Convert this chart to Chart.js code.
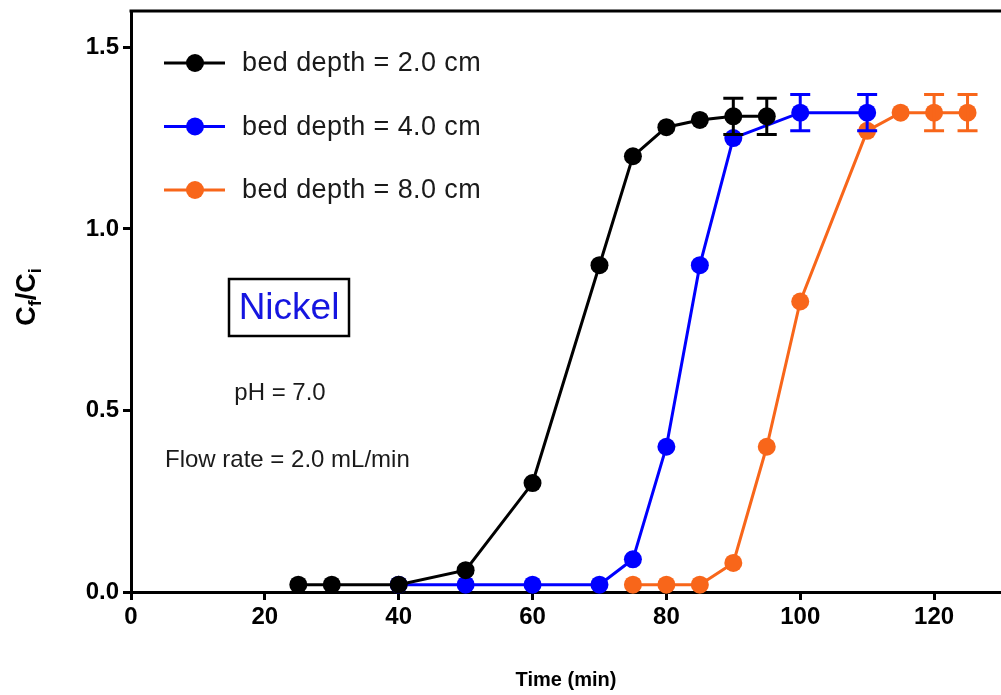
<!DOCTYPE html>
<html>
<head>
<meta charset="utf-8">
<script src="https://cdn.jsdelivr.net/npm/chart.js@4.4.1/dist/chart.umd.min.js"></script>
<style>
  html, body { margin: 0; padding: 0; background: #fff; }
  #wrap { width: 1001px; height: 695px; }
</style>
</head>
<body>
<div id="wrap"><canvas id="chart" width="1001" height="695"></canvas></div>
<script>
// breakthrough readings, C/Ci against time (min), one set per bed depth
const time2cm = [25, 30, 40, 50, 60, 70, 75, 80, 85, 90, 95];
const ratio2cm = [0.02, 0.02, 0.02, 0.06, 0.30, 0.90, 1.20, 1.28, 1.30, 1.31, 1.31];
const err2cm = [0, 0, 0, 0, 0, 0, 0, 0, 0, 0.05, 0.05];

const time4cm = [40, 50, 60, 70, 75, 80, 85, 90, 100, 110];
const ratio4cm = [0.02, 0.02, 0.02, 0.02, 0.09, 0.40, 0.90, 1.25, 1.32, 1.32];
const err4cm = [0, 0, 0, 0, 0, 0, 0, 0, 0.05, 0.05];

const time8cm = [75, 80, 85, 90, 95, 100, 110, 115, 120, 125];
const ratio8cm = [0.02, 0.02, 0.02, 0.08, 0.40, 0.80, 1.27, 1.32, 1.32, 1.32];
const err8cm = [0, 0, 0, 0, 0, 0, 0, 0, 0.05, 0.05];

const seriesLabels = ["bed depth = 2.0 cm", "bed depth = 4.0 cm", "bed depth = 8.0 cm"];

const xTicks = [0, 20, 40, 60, 80, 100, 120];
const yTicks = [0, 0.5, 1.0, 1.5];

const FONT = "'Liberation Sans', Arial, sans-serif";

function makeSet(label, times, ratios, errs, color) {
  return {
    label: label,
    data: times.map((t, i) => ({ x: t, y: ratios[i] })),
    errors: errs,
    showLine: true,
    borderColor: color,
    backgroundColor: color,
    borderWidth: 3,
    pointRadius: 9,
    pointHoverRadius: 9,
    pointBorderWidth: 0,
    pointBackgroundColor: color,
    clip: false
  };
}

// vertical error bars with caps, drawn right after their own series
const errorBars = {
  id: "errorBars",
  afterDatasetDraw(chart, args) {
    const ds = chart.data.datasets[args.index];
    const ys = chart.scales.y;
    const ctx = chart.ctx;
    ctx.save();
    ctx.strokeStyle = ds.borderColor;
    ctx.lineWidth = 3;
    args.meta.data.forEach((pt, i) => {
      const e = ds.errors[i];
      if (!e) return;
      const v = ds.data[i].y;
      const top = ys.getPixelForValue(v + e);
      const bot = ys.getPixelForValue(v - e);
      ctx.beginPath();
      ctx.moveTo(pt.x, top); ctx.lineTo(pt.x, bot);
      ctx.moveTo(pt.x - 10, top); ctx.lineTo(pt.x + 10, top);
      ctx.moveTo(pt.x - 10, bot); ctx.lineTo(pt.x + 10, bot);
      ctx.stroke();
    });
    ctx.restore();
  }
};

// frame top, legend, notes and the y-axis title with subscripts
const decorations = {
  id: "decorations",
  afterDraw(chart) {
    const ctx = chart.ctx;
    const area = chart.chartArea;
    ctx.save();

    ctx.strokeStyle = "#000";
    ctx.lineWidth = 3;
    ctx.beginPath();
    ctx.moveTo(area.left - 1.5, area.top);
    ctx.lineTo(area.right, area.top);
    ctx.stroke();

    // legend
    chart.data.datasets.forEach((ds, i) => {
      const y = 63 + i * 63.5;
      ctx.strokeStyle = ds.borderColor;
      ctx.lineWidth = 3;
      ctx.beginPath();
      ctx.moveTo(164, y); ctx.lineTo(225, y);
      ctx.stroke();
      ctx.fillStyle = ds.borderColor;
      ctx.beginPath();
      ctx.arc(195, y, 9, 0, Math.PI * 2);
      ctx.fill();
      ctx.fillStyle = "#1a1a1a";
      ctx.font = "27px " + FONT;
      ctx.letterSpacing = "0.4px";
      ctx.textAlign = "left";
      ctx.textBaseline = "middle";
      ctx.fillText(ds.label, 242, y + 1);
    });
    ctx.letterSpacing = "0px";

    // metal label box
    ctx.strokeStyle = "#000";
    ctx.lineWidth = 2.5;
    ctx.strokeRect(229, 279, 120, 57);
    ctx.fillStyle = "#1515e0";
    ctx.font = "37px " + FONT;
    ctx.textAlign = "center";
    ctx.textBaseline = "middle";
    ctx.fillText("Nickel", 289, 309);

    ctx.fillStyle = "#1a1a1a";
    ctx.font = "24px " + FONT;
    ctx.fillText("pH = 7.0", 280, 393);
    ctx.textAlign = "left";
    ctx.fillText("Flow rate = 2.0 mL/min", 165, 460);

    // y title: C_f / C_i
    ctx.translate(35, 297);
    ctx.rotate(-Math.PI / 2);
    ctx.fillStyle = "#000";
    ctx.textBaseline = "alphabetic";
    const parts = [
      { t: "C", s: 27, dy: 0 },
      { t: "f", s: 18, dy: 6 },
      { t: "/C", s: 27, dy: 0 },
      { t: "i", s: 18, dy: 6 }
    ];
    let total = 0;
    parts.forEach(p => {
      ctx.font = "bold " + p.s + "px " + FONT;
      p.w = ctx.measureText(p.t).width;
      total += p.w;
    });
    let x = -total / 2;
    parts.forEach(p => {
      ctx.font = "bold " + p.s + "px " + FONT;
      ctx.fillText(p.t, x, p.dy);
      x += p.w;
    });
    ctx.restore();
  }
};

// keep the plot box flush with the layout padding
function noEdgePadding(s) {
  s.paddingTop = 0;
  s.paddingBottom = 0;
  s.paddingLeft = 0;
  s.paddingRight = 0;
}

new Chart(document.querySelector("#chart"), {
  type: "scatter",
  data: {
    datasets: [
      makeSet(seriesLabels[0], time2cm, ratio2cm, err2cm, "#000000"),
      makeSet(seriesLabels[1], time4cm, ratio4cm, err4cm, "#0000ff"),
      makeSet(seriesLabels[2], time8cm, ratio8cm, err8cm, "#f8661a")
    ]
  },
  options: {
    responsive: false,
    animation: false,
    events: [],
    layout: { autoPadding: false, padding: { top: 11, left: 0, right: 0, bottom: 0 } },
    plugins: { legend: { display: false }, tooltip: { enabled: false } },
    scales: {
      x: {
        type: "linear",
        min: 0,
        max: 130,
        z: 1,
        afterBuildTicks: s => { s.ticks = xTicks.map(v => ({ value: v })); },
        afterFit: s => { s.height = 103; noEdgePadding(s); },
        grid: { drawOnChartArea: false, tickLength: 8, tickWidth: 3, tickColor: "#000" },
        border: { display: true, color: "#000", width: 3 },
        ticks: {
          color: "#000",
          padding: 3,
          maxRotation: 0,
          font: { family: FONT, size: 24, weight: "bold" }
        },
        title: {
          display: true,
          text: "Time (min)",
          color: "#000",
          padding: { top: 0, bottom: 3 },
          font: { family: FONT, size: 20, weight: "bold" }
        }
      },
      y: {
        type: "linear",
        min: 0,
        max: 1.6,
        z: 1,
        afterBuildTicks: s => { s.ticks = yTicks.map(v => ({ value: v })); },
        afterFit: s => { s.width = 131; noEdgePadding(s); },
        grid: { drawOnChartArea: false, tickLength: 8, tickWidth: 3, tickColor: "#000" },
        border: { display: true, color: "#000", width: 3 },
        ticks: {
          color: "#000",
          padding: 4,
          font: { family: FONT, size: 24, weight: "bold" },
          callback: v => v.toFixed(1)
        }
      }
    }
  },
  plugins: [errorBars, decorations]
});
</script>
</body>
</html>
